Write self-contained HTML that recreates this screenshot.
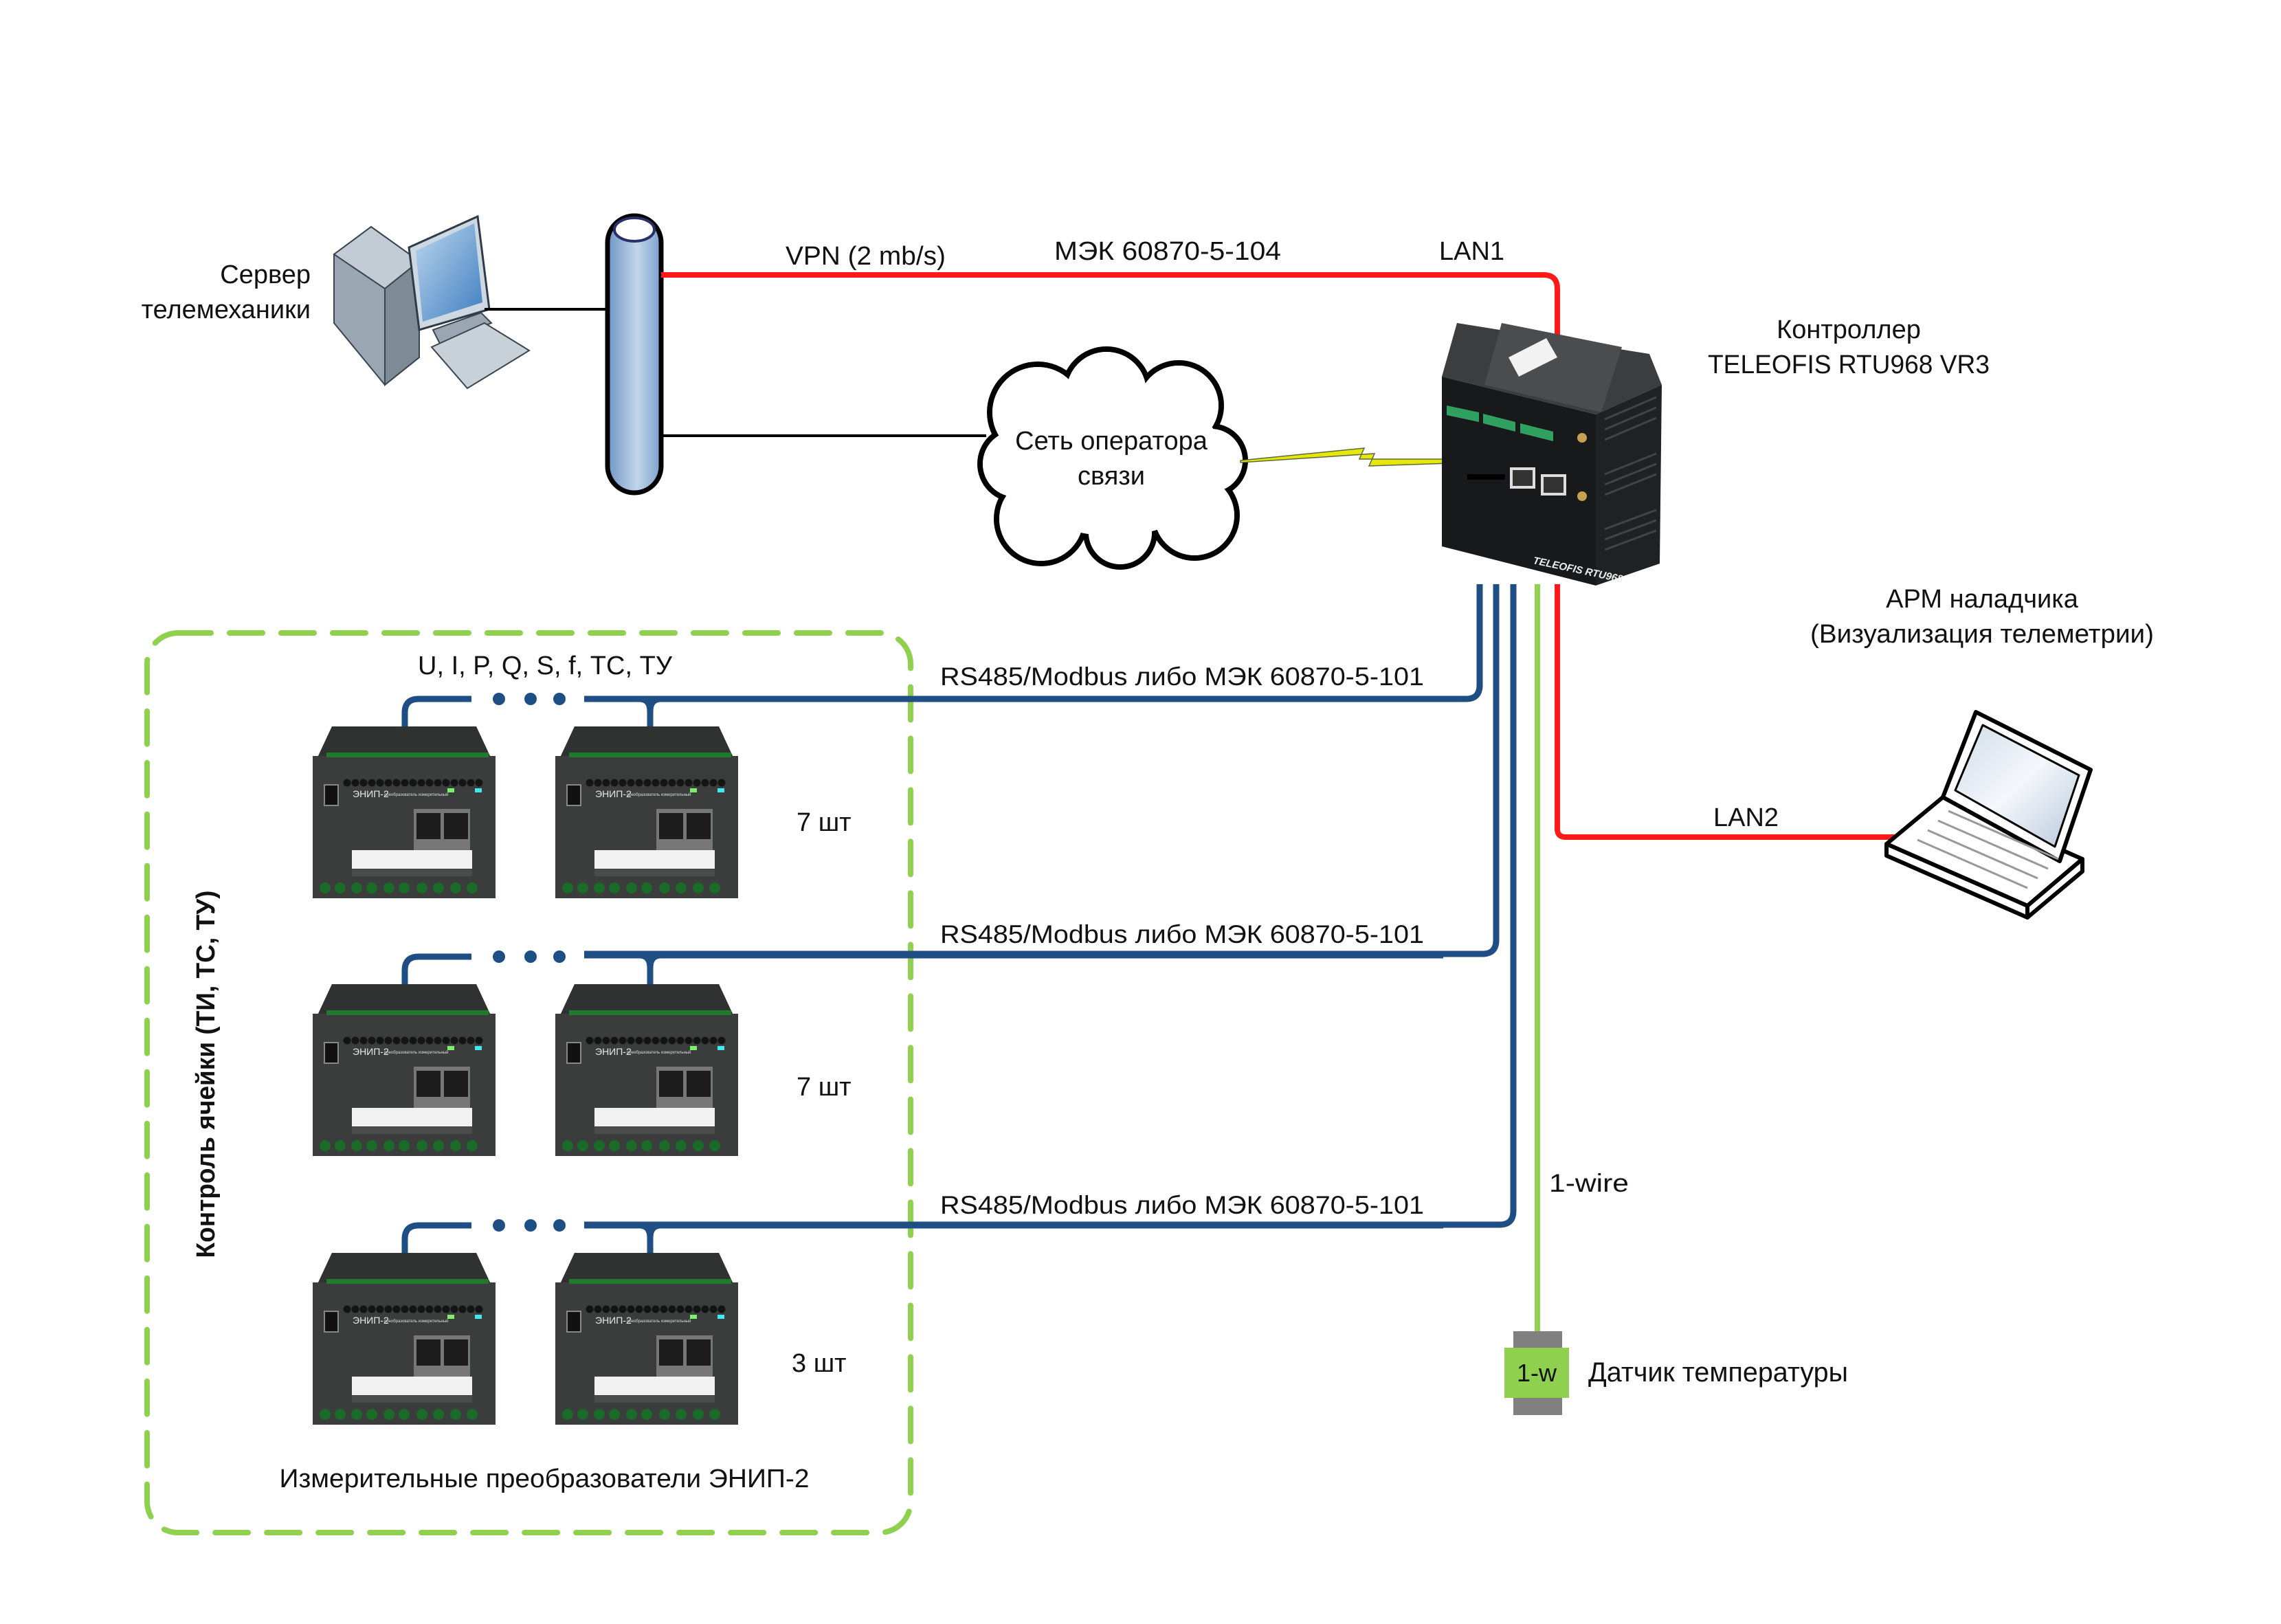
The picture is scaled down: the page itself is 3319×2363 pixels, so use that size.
<!DOCTYPE html>
<html><head><meta charset="utf-8"><style>
html,body{margin:0;padding:0;background:#fff;}
svg{display:block;}
text{font-family:"Liberation Sans","Noto Sans CJK SC",sans-serif;fill:#111;}
</style></head><body>
<svg width="3319" height="2363" viewBox="0 0 3319 2363" xmlns="http://www.w3.org/2000/svg">
<defs>
<linearGradient id="pipe" x1="0" x2="1" y1="0" y2="0">
<stop offset="0" stop-color="#6d95c4"/><stop offset="0.55" stop-color="#c2d6ea"/><stop offset="1" stop-color="#7aa0cc"/></linearGradient>
<linearGradient id="mon" x1="0" x2="1" y1="0" y2="1"><stop offset="0" stop-color="#bcd6ee"/><stop offset="1" stop-color="#3f7fc0"/></linearGradient>
<linearGradient id="lcd" x1="0" x2="1" y1="0" y2="1"><stop offset="0" stop-color="#d0dcea"/><stop offset="0.5" stop-color="#f4f7fb"/><stop offset="1" stop-color="#b8c8dc"/></linearGradient>
<g id="dev">
  <polygon points="28,0 238,0 258,43 266,43 266,250 0,250 0,43 8,43" fill="#3b3d3c"/>
  <polygon points="28,0 238,0 258,43 8,43" fill="#303231"/>
  <rect x="20" y="38" width="236" height="7" fill="#1f7a2e"/>
  <g fill="#141414">
   <circle cx="50" cy="82" r="5.5"/><circle cx="62" cy="82" r="5.5"/><circle cx="74" cy="82" r="5.5"/><circle cx="86" cy="82" r="5.5"/><circle cx="98" cy="82" r="5.5"/><circle cx="110" cy="82" r="5.5"/><circle cx="122" cy="82" r="5.5"/><circle cx="134" cy="82" r="5.5"/><circle cx="146" cy="82" r="5.5"/><circle cx="158" cy="82" r="5.5"/><circle cx="170" cy="82" r="5.5"/><circle cx="182" cy="82" r="5.5"/><circle cx="194" cy="82" r="5.5"/><circle cx="206" cy="82" r="5.5"/><circle cx="218" cy="82" r="5.5"/><circle cx="230" cy="82" r="5.5"/><circle cx="242" cy="82" r="5.5"/>
  </g>
  <rect x="196" y="90" width="10" height="6" fill="#7cf06a"/><rect x="236" y="90" width="10" height="6" fill="#40e8f0"/>
  <rect x="17" y="85" width="20" height="30" fill="#111" stroke="#888" stroke-width="2"/>
  <text x="58" y="103" style="font-size:14px;fill:#e8e8e8">ЭНИП-2</text>
  <text x="104" y="101" style="font-size:6px;fill:#ddd">преобразователь измерительный</text>
  <rect x="147" y="120" width="82" height="60" fill="#777"/>
  <rect x="151" y="126" width="35" height="38" fill="#1c1c1c"/><rect x="191" y="126" width="35" height="38" fill="#1c1c1c"/>
  <rect x="57" y="180" width="175" height="27" fill="#f1f1f1"/>
  <rect x="57" y="208" width="175" height="10" fill="#4a4c4b"/>
  <g fill="#1a6a28">
   <circle cx="18" cy="235" r="8"/><circle cx="40" cy="235" r="8"/><circle cx="64" cy="235" r="8"/><circle cx="86" cy="235" r="8"/><circle cx="111" cy="235" r="8"/><circle cx="133" cy="235" r="8"/><circle cx="159" cy="235" r="8"/><circle cx="183" cy="235" r="8"/><circle cx="208" cy="235" r="8"/><circle cx="232" cy="235" r="8"/>
  </g>
</g>
</defs>

<rect x="214" y="921" width="1111" height="1309" rx="45" fill="none" stroke="#8fd14f" stroke-width="8" stroke-dasharray="48 27" stroke-linecap="round"/>

<g>
  <polygon points="486,370 540,330 610,380 610,520 560,560 486,470" fill="#9aa7b3" stroke="#3a4550" stroke-width="2"/>
  <polygon points="486,370 540,330 610,380 560,420" fill="#c3ccd4" stroke="#3a4550" stroke-width="2"/>
  <polygon points="560,420 610,380 610,520 560,560" fill="#7d8b97" stroke="#3a4550" stroke-width="2"/>
  <polygon points="595,360 695,315 712,450 610,480" fill="#cdd8e2" stroke="#2f3b47" stroke-width="3"/>
  <polygon points="605,365 690,325 702,440 615,468" fill="url(#mon)"/>
  <polygon points="630,480 700,455 715,470 640,500" fill="#9aa7b3" stroke="#3a4550" stroke-width="2"/>
  <polygon points="628,505 705,470 770,510 680,565" fill="#c9d1d8" stroke="#3a4550" stroke-width="2"/>
</g>
<text x="452" y="412" text-anchor="end" style="font-size:38px">Сервер</text>
<text x="452" y="463" text-anchor="end" style="font-size:38px">телемеханики</text>
<line x1="705" y1="450" x2="890" y2="450" stroke="#000" stroke-width="4"/>

<rect x="884" y="314" width="78" height="403" rx="39" fill="url(#pipe)" stroke="#000" stroke-width="7"/>
<ellipse cx="923" cy="334" rx="29" ry="17" fill="#fff" stroke="#2a2f6a" stroke-width="4"/>

<path d="M962,400 H2246 Q2266,400 2266,420 V500" fill="none" stroke="#ff1a1a" stroke-width="8"/>
<text x="1143" y="385" style="font-size:38px" textLength="233" lengthAdjust="spacingAndGlyphs">VPN (2 mb/s)</text>
<text x="1534" y="378" style="font-size:38px" textLength="330" lengthAdjust="spacingAndGlyphs">МЭК 60870-5-104</text>
<text x="2094" y="378" style="font-size:38px" textLength="95" lengthAdjust="spacingAndGlyphs">LAN1</text>

<line x1="962" y1="634" x2="1435" y2="634" stroke="#000" stroke-width="4"/>

<g stroke="#000" stroke-width="8" fill="#fff">
 <circle cx="1510" cy="600" r="70"/><circle cx="1610" cy="570" r="62"/><circle cx="1715" cy="590" r="62"/><circle cx="1762" cy="670" r="50"/><circle cx="1738" cy="750" r="62"/><circle cx="1630" cy="775" r="50"/><circle cx="1515" cy="755" r="65"/><circle cx="1478" cy="675" r="52"/>
</g>
<g fill="#fff">
 <circle cx="1510" cy="600" r="66"/><circle cx="1610" cy="570" r="58"/><circle cx="1715" cy="590" r="58"/><circle cx="1762" cy="670" r="46"/><circle cx="1738" cy="750" r="58"/><circle cx="1630" cy="775" r="46"/><circle cx="1515" cy="755" r="61"/><circle cx="1478" cy="675" r="48"/>
 <ellipse cx="1620" cy="670" rx="160" ry="110"/>
</g>
<text x="1617" y="654" text-anchor="middle" style="font-size:38px">Сеть оператора</text>
<text x="1617" y="705" text-anchor="middle" style="font-size:38px">связи</text>

<polygon points="1805,670 1985,652 1978,668 2112,668 2112,674 1992,678 2000,660 1805,673" fill="#e6e60a" stroke="#5a6a3a" stroke-width="1.5"/>

<g>
  <polygon points="2098,548 2120,470 2400,515 2418,560 2322,603" fill="#3b3d3f"/>
  <polygon points="2185,470 2360,505 2330,600 2160,560" fill="#4a4c4e"/>
  <polygon points="2195,520 2250,492 2266,520 2210,548" fill="#f2f2f2"/>
  <polygon points="2098,548 2322,603 2322,852 2098,795" fill="#18191a"/>
  <polygon points="2322,603 2418,560 2415,820 2322,852" fill="#202122"/>
  <g stroke="#444" stroke-width="3">
   <line x1="2335" y1="610" x2="2410" y2="578"/><line x1="2335" y1="625" x2="2410" y2="593"/><line x1="2335" y1="640" x2="2410" y2="608"/>
   <line x1="2335" y1="690" x2="2410" y2="660"/><line x1="2335" y1="705" x2="2410" y2="675"/><line x1="2335" y1="720" x2="2410" y2="690"/>
   <line x1="2335" y1="770" x2="2410" y2="742"/><line x1="2335" y1="785" x2="2410" y2="757"/><line x1="2335" y1="800" x2="2410" y2="772"/>
  </g>
  <polygon points="2105,590 2152,600 2152,614 2105,604" fill="#2fa060"/>
  <polygon points="2158,602 2205,614 2205,628 2158,616" fill="#2fa060"/>
  <polygon points="2212,616 2260,628 2260,642 2212,630" fill="#2fa060"/>
  <rect x="2197" y="680" width="37" height="31" fill="#ddd"/><rect x="2201" y="684" width="29" height="23" fill="#333"/>
  <rect x="2242" y="690" width="37" height="31" fill="#ddd"/><rect x="2246" y="694" width="29" height="23" fill="#333"/>
  <circle cx="2302" cy="637" r="7" fill="#c8a050"/><circle cx="2302" cy="722" r="7" fill="#c8a050"/>
  <rect x="2135" y="690" width="55" height="8" fill="#000"/>
  <text x="2230" y="820" style="font-size:15px;fill:#eee;font-weight:bold;font-style:italic" transform="rotate(12 2230 820)">TELEOFIS RTU968</text>
</g>
<text x="2690" y="492" text-anchor="middle" style="font-size:38px">Контроллер</text>
<text x="2690" y="543" text-anchor="middle" style="font-size:38px" textLength="410" lengthAdjust="spacingAndGlyphs">TELEOFIS RTU968 VR3</text>
<text x="2884" y="884" text-anchor="middle" style="font-size:38px">АРМ наладчика</text>
<text x="2884" y="935" text-anchor="middle" style="font-size:38px" textLength="500" lengthAdjust="spacingAndGlyphs">(Визуализация телеметрии)</text>

<path d="M2266,850 V1206 Q2266,1218 2278,1218 H2760" fill="none" stroke="#ff1a1a" stroke-width="8"/>
<text x="2493" y="1202" style="font-size:38px" textLength="95" lengthAdjust="spacingAndGlyphs">LAN2</text>

<g stroke="#000" stroke-width="6" stroke-linejoin="round">
  <polygon points="2745,1228 2827,1160 3030,1250 2950,1318" fill="#fff"/>
  <polygon points="2745,1228 2745,1245 2950,1335 2950,1318" fill="#fff"/>
  <polygon points="2950,1318 3030,1250 3030,1268 2950,1335" fill="#fff"/>
  <polygon points="2827,1160 2875,1036 3042,1120 2997,1253" fill="#fff"/>
  <polygon points="2845,1150 2885,1055 3025,1128 2990,1232" fill="url(#lcd)" stroke-width="3"/>
</g>
<g stroke="#999" stroke-width="3" fill="none">
  <line x1="2790" y1="1222" x2="2950" y2="1292"/><line x1="2805" y1="1208" x2="2965" y2="1278"/><line x1="2820" y1="1194" x2="2980" y2="1264"/><line x1="2835" y1="1180" x2="2995" y2="1250"/>
</g>

<path d="M2153,850 V997 Q2153,1017 2133,1017 H850" fill="none" stroke="#1f4e85" stroke-width="9"/>
<path d="M2177,850 V1368 Q2177,1388 2157,1388 H850" fill="none" stroke="#1f4e85" stroke-width="9"/>
<path d="M2202,850 V1762 Q2202,1782 2182,1782 H850" fill="none" stroke="#1f4e85" stroke-width="9"/>
<line x1="2237" y1="850" x2="2237" y2="1940" stroke="#8fd14f" stroke-width="8"/>
<text x="1368" y="997" style="font-size:37px" textLength="704" lengthAdjust="spacingAndGlyphs">RS485/Modbus либо МЭК 60870-5-101</text>
<text x="1368" y="1372" style="font-size:37px" textLength="704" lengthAdjust="spacingAndGlyphs">RS485/Modbus либо МЭК 60870-5-101</text>
<text x="1368" y="1766" style="font-size:37px" textLength="704" lengthAdjust="spacingAndGlyphs">RS485/Modbus либо МЭК 60870-5-101</text>
<text x="2254" y="1734" style="font-size:37px" textLength="116" lengthAdjust="spacingAndGlyphs">1-wire</text>

<rect x="2202" y="1937" width="71" height="26" fill="#808080"/>
<rect x="2189" y="1961" width="94" height="73" fill="#8fd14f"/>
<rect x="2202" y="2034" width="71" height="25" fill="#808080"/>
<text x="2236" y="2010" text-anchor="middle" style="font-size:36px">1-w</text>
<text x="2311" y="2010" style="font-size:40px" textLength="378" lengthAdjust="spacingAndGlyphs">Датчик температуры</text>

<g>
 <path d="M589,1057 V1037 Q589,1017 609,1017 H686" fill="none" stroke="#1f4e85" stroke-width="9"/>
 <path d="M850,1017 H2100 M930,1017 Q946,1017 946,1035 V1057 M962,1017 Q946,1017 946,1035" fill="none" stroke="#1f4e85" stroke-width="9"/>
 <circle cx="726" cy="1017" r="9" fill="#1f4e85"/><circle cx="772" cy="1017" r="9" fill="#1f4e85"/><circle cx="814" cy="1017" r="9" fill="#1f4e85"/>
 <use href="#dev" x="455" y="1057"/>
 <use href="#dev" x="808" y="1057"/>
</g>
<g>
 <path d="M589,1432 V1412 Q589,1392 609,1392 H686" fill="none" stroke="#1f4e85" stroke-width="9"/>
 <path d="M850,1390 H2100 M930,1390 Q946,1390 946,1408 V1432 M962,1390 Q946,1390 946,1408" fill="none" stroke="#1f4e85" stroke-width="9"/>
 <circle cx="726" cy="1392" r="9" fill="#1f4e85"/><circle cx="772" cy="1392" r="9" fill="#1f4e85"/><circle cx="814" cy="1392" r="9" fill="#1f4e85"/>
 <use href="#dev" x="455" y="1432"/>
 <use href="#dev" x="808" y="1432"/>
</g>
<g>
 <path d="M589,1823 V1803 Q589,1783 609,1783 H686" fill="none" stroke="#1f4e85" stroke-width="9"/>
 <path d="M850,1783 H2100 M930,1783 Q946,1783 946,1801 V1823 M962,1783 Q946,1783 946,1801" fill="none" stroke="#1f4e85" stroke-width="9"/>
 <circle cx="726" cy="1783" r="9" fill="#1f4e85"/><circle cx="772" cy="1783" r="9" fill="#1f4e85"/><circle cx="814" cy="1783" r="9" fill="#1f4e85"/>
 <use href="#dev" x="455" y="1823"/>
 <use href="#dev" x="808" y="1823"/>
</g>

<text x="793" y="981" text-anchor="middle" style="font-size:38px" textLength="370" lengthAdjust="spacingAndGlyphs">U, I, P, Q, S, f, ТС, ТУ</text>
<text x="1159" y="1209" style="font-size:38px">7 шт</text>
<text x="1159" y="1594" style="font-size:38px">7 шт</text>
<text x="1152" y="1996" style="font-size:38px">3 шт</text>
<text x="792" y="2164" text-anchor="middle" style="font-size:38px" textLength="771" lengthAdjust="spacingAndGlyphs">Измерительные преобразователи ЭНИП-2</text>
<text x="0" y="0" text-anchor="middle" style="font-size:38px;font-weight:bold" transform="translate(312,1563) rotate(-90)" textLength="535" lengthAdjust="spacingAndGlyphs">Контроль ячейки (ТИ, ТС, ТУ)</text>
</svg>
</body></html>
